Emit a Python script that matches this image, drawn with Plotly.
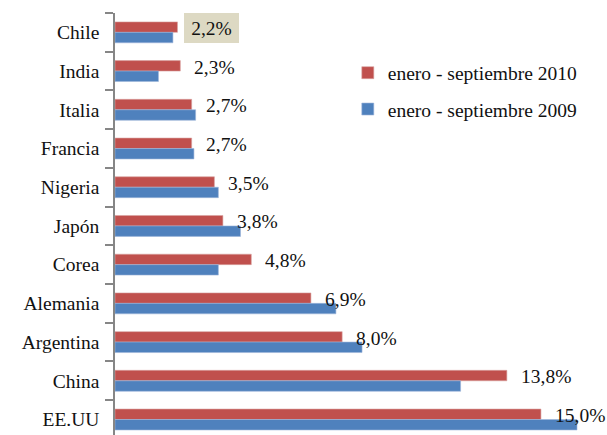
import plotly.graph_objects as go

countries = ["Chile", "India", "Italia", "Francia", "Nigeria", "Japón", "Corea",
             "Alemania", "Argentina", "China", "EE.UU"]
values_2010 = [2.2, 2.3, 2.7, 2.7, 3.5, 3.8, 4.8, 6.9, 8.0, 13.8, 15.0]
values_2009 = [2.04, 1.53, 2.84, 2.78, 3.64, 4.42, 3.64, 7.78, 8.70, 12.17, 16.27]
labels_2010 = ["2,2%", "2,3%", "2,7%", "2,7%", "3,5%", "3,8%", "4,8%",
               "6,9%", "8,0%", "13,8%", "15,0%"]
name_2010 = "enero - septiembre 2010"
name_2009 = "enero - septiembre 2009"

RED = "#C0504D"
BLUE = "#4F81BD"
FONT = "Liberation Serif, Times New Roman, serif"

fig = go.Figure()
fig.add_trace(go.Bar(
    y=countries, x=values_2010, orientation="h", name=name_2010,
    marker=dict(color=RED, line=dict(color="#D9A3A1", width=0.6)),
    legendgroup="a", hoverinfo="x+y",
))
fig.add_trace(go.Bar(
    y=countries, x=values_2009, orientation="h", name=name_2009,
    marker=dict(color=BLUE, line=dict(color="#9DB6DA", width=0.6)),
    legendgroup="b", hoverinfo="x+y",
))

annotations = []
for i, (c, v, t) in enumerate(zip(countries, values_2010, labels_2010)):
    if i == 0:
        annotations.append(dict(
            x=v, y=c, xref="x", yref="y", text=t, showarrow=False,
            xanchor="left", yanchor="middle", xshift=7, yshift=4.2,
            bgcolor="#DDD9C3", borderpad=1, borderwidth=1, bordercolor="#DDD9C3",
            width=51, height=26, align="center",
            font=dict(family=FONT, size=19.5, color="#111111"),
        ))
    else:
        annotations.append(dict(
            x=v, y=c, xref="x", yref="y", text=t, showarrow=False,
            xanchor="left", yanchor="middle", xshift=12, yshift=4,
            font=dict(family=FONT, size=19.5, color="#111111"),
        ))

fig.update_layout(
    width=607, height=435,
    margin=dict(l=115, r=7, t=13, b=0, pad=0, autoexpand=False),
    paper_bgcolor="white", plot_bgcolor="white",
    barmode="group", bargap=0.46, bargroupgap=0,
    font=dict(family=FONT, size=19.5, color="#111111"),
    showlegend=True,
    legend=dict(
        x=0.48, y=0.904, xanchor="left", yanchor="top",
        traceorder="grouped", tracegroupgap=8,
        font=dict(family=FONT, size=19.5, color="#111111"),
        bgcolor="rgba(0,0,0,0)",
    ),
    annotations=annotations,
    xaxis=dict(range=[0, 17.08], visible=False, showgrid=False, zeroline=False),
    yaxis=dict(
        type="category", categoryorder="array", categoryarray=countries,
        range=[10.4, -0.5], automargin=False,
        showline=True, linecolor="#868686", linewidth=1.5,
        ticks="outside", ticklen=8, tickcolor="#868686", tickwidth=1.5,
        tickson="boundaries", ticklabelstandoff=10,
        showgrid=False, zeroline=False,
        tickfont=dict(family=FONT, size=19.5, color="#111111"),
    ),
)

fig.write_html(
    "out.html",
    config={"displayModeBar": False},
    post_script="document.body.style.margin='0';document.body.style.padding='0';document.body.style.overflow='hidden';",
)
